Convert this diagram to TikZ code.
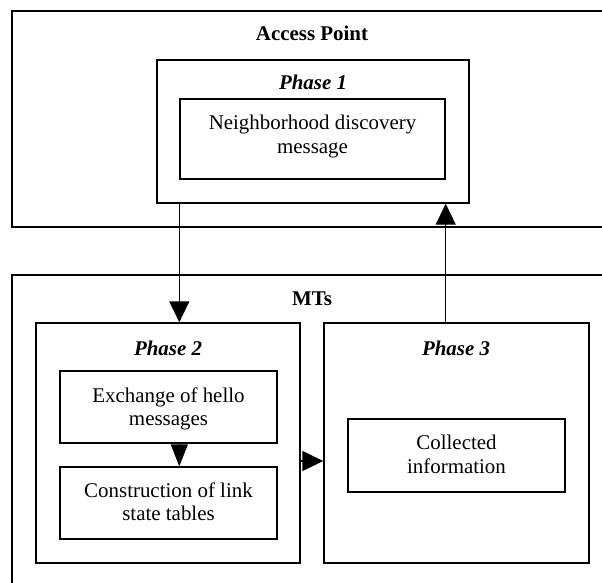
\documentclass[tikz,border=0pt]{standalone}
\usepackage{fontspec}
\setmainfont{Liberation Serif}
\usetikzlibrary{arrows.meta}
\begin{document}
\begin{tikzpicture}[x=1bp,y=-1bp,
  box/.style={draw, line width=1.4bp, inner sep=0pt},
  txt/.style={font=\fontsize{21}{24}\selectfont, anchor=base, inner sep=0pt},
  hd/.style={txt, font=\fontsize{21}{24}\selectfont\bfseries},
  ph/.style={txt, font=\fontsize{21}{24}\selectfont\bfseries\itshape},
  arr/.style={line width=1.4bp, -{Triangle[length=21bp,width=20bp]}},
  arrs/.style={line width=1.4bp, -{Triangle[length=22bp,width=17bp]}}]
\useasboundingbox (0,0) rectangle (602,583);
\clip (0,0) rectangle (602,583);
\fill[white] (0,0) rectangle (602,583);
% boxes
\node[box, minimum width=628bp, minimum height=216bp] (ap) at (326,119) {};
\node[box, minimum width=312bp, minimum height=143bp] (p1) at (313,131.5) {};
\node[box, minimum width=265bp, minimum height=80bp] (nd) at (312.5,139) {};
\node[box, minimum width=628bp, minimum height=345bp] (mt) at (326,447.5) {};
\node[box, minimum width=264bp, minimum height=240bp] (p2) at (168,443) {};
\node[box, minimum width=265bp, minimum height=240bp] (p3) at (456.5,443) {};
\node[box, minimum width=217bp, minimum height=72bp] (ex) at (168.5,407) {};
\node[box, minimum width=217bp, minimum height=72bp] (cs) at (168.5,503) {};
\node[box, minimum width=217bp, minimum height=73bp] (ci) at (456.5,455.5) {};
% texts
\node[hd] (tap) at (312,41) {Access Point};
\node[ph] (tp1) at (313,90) {Phase 1};
\node[txt] (tnd1) at (312.5,130) {Neighborhood discovery};
\node[txt] (tnd2) at (312.5,154) {message};
\node[hd] (tmt) at (312,305) {MTs};
\node[ph] (tp2) at (168,355) {Phase 2};
\node[ph] (tp3) at (456,355) {Phase 3};
\node[txt] (tex1) at (168.5,402) {Exchange of hello};
\node[txt] (tex2) at (168.5,425) {messages};
\node[txt] (tcs1) at (168.5,497) {Construction of link};
\node[txt] (tcs2) at (168.5,520) {state tables};
\node[txt] (tci1) at (456.5,449) {Collected};
\node[txt] (tci2) at (456.5,473) {information};
% connectors
\draw[arr] (nd.west |- p1.south) -- (nd.west |- p2.north);
\draw[arr] (nd.east |- p3.north) -- (nd.east |- p1.south);
\draw[arrs] (nd.west |- ex.south) -- (nd.west |- cs.north);
\draw[arr] ([yshift=-18bp]p2.east) -- ([yshift=-18bp]p3.west);
\end{tikzpicture}
\end{document}
